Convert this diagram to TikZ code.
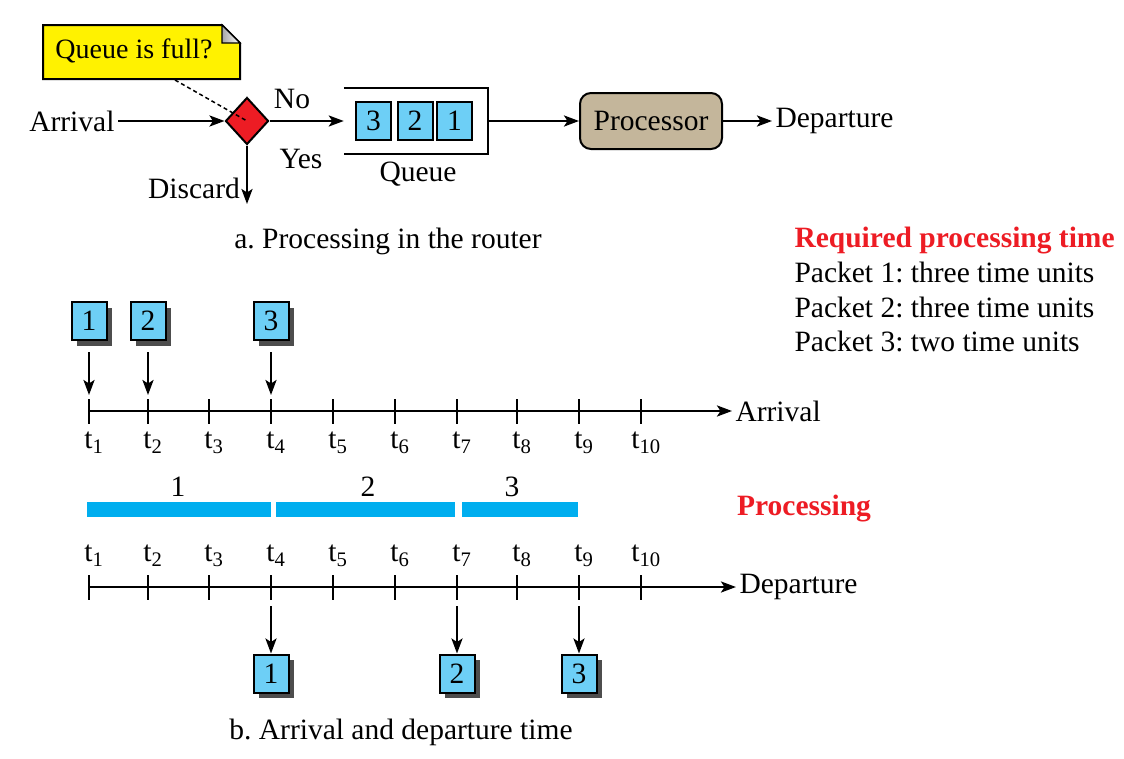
\documentclass[tikz,border=0pt]{standalone}
\usepackage{fontspec}
\setmainfont{Liberation Serif}
\usetikzlibrary{shapes.geometric,arrows.meta,shadows,calc}
\definecolor{calloutyellow}{HTML}{FFF200}
\definecolor{diared}{HTML}{ED1C24}
\definecolor{pktblue}{HTML}{6DCFF6}
\definecolor{barblue}{HTML}{00AEEF}
\definecolor{proctan}{HTML}{C4B69B}
\definecolor{shadowgray}{HTML}{4D4D4D}
\definecolor{titlered}{HTML}{ED1C24}
\frenchspacing
\begin{document}
\begin{tikzpicture}[x=1pt,y=-1pt,
  every node/.style={font=\fontsize{29.5}{34}\selectfont},
  arr/.style={line width=2.5pt,-{Stealth[length=15pt,width=11pt,inset=3.5pt]}},
  tick/.style={line width=2.3pt},
  axis/.style={line width=2.5pt,-{Stealth[length=15pt,width=11pt,inset=3.5pt]}},
  pkt/.style={draw,line width=2pt,fill=pktblue,minimum width=35pt,minimum height=38pt,inner sep=0pt},
  spkt/.style={pkt,drop shadow={shadow xshift=5.5pt,shadow yshift=-5.5pt,fill=shadowgray,opacity=1}},
  bar/.style={fill=barblue},
  redtitle/.style={text=titlered,font=\fontsize{29.5}{34}\selectfont\bfseries}
]
\useasboundingbox (0,0) rectangle (1124,758);

% ---------- a. router ----------
\filldraw[fill=calloutyellow,line width=2pt] (43,25) -- (222,25) -- (240,43) -- (240,79) -- (43,79) -- cycle;
\shade[left color=gray!70,right color=white,draw=black,line width=1.2pt] (222,25) -- (222,43) -- (240,43) -- cycle;
\node[font=\fontsize{28}{33}\selectfont] (callout) at (134,51) {Queue is full?};
\coordinate (calloutpt) at (175,80);

\node[diamond,draw,line width=2pt,fill=diared,minimum width=43pt,minimum height=47pt,inner sep=0pt] (dia) at (247,121) {};
\draw[dashed,line width=1.5pt,dash pattern=on 4pt off 3pt] (calloutpt) -- (dia.center);

\node[anchor=east] (arrival) at (118,121) {Arrival};
\draw[arr] (arrival) -- (dia.west);

\node (no) at (292,99) {No};
\node (yes) at (301,159) {Yes};
\node (discard) at (194,188) {Discard};
\coordinate (discardend) at (247,204);
\draw[arr] (dia.south) -- (discardend);

\node[minimum width=144pt,minimum height=66pt,inner sep=0pt] (queue) at (416,121) {};
\draw[line width=2pt] (queue.north west) -- (queue.north east) -- (queue.south east) -- (queue.south west);
\node[pkt] (q3) at (373.5,121) {3};
\node[pkt] (q2) at (415,121) {2};
\node[pkt] (q1) at (454.5,121) {1};
\node (queuelab) at (418,174) {Queue};
\draw[arr] (dia.east) -- (queue.west);

\node[draw,line width=2pt,fill=proctan,rounded corners=11pt,minimum width=142pt,minimum height=56pt] (proc) at (651,121) {Processor};
\draw[arr] (queue.east) -- (proc.west);
\node[anchor=west] (departure) at (772,121) {Departure};
\draw[arr] (proc.east) -- (departure.west);

\node (capa) at (388,241) {a. Processing in the router};

% ---------- required processing time ----------
\node[redtitle,anchor=west] (req) at (791,241) {Required processing time};
\node[anchor=west] (p1) at (791,272) {Packet 1: three time units};
\node[anchor=west] (p2) at (791,307) {Packet 2: three time units};
\node[anchor=west] (p3) at (791,341) {Packet 3: two time units};

% ---------- b. timelines ----------
\coordinate (astart) at (89,411);
\node[anchor=west] (arrlab) at (732,411) {Arrival};
\draw[axis] (astart) -- (arrlab.west);
\foreach \x [count=\i] in {89,148,209,271,333,395,457,517,579,641} {
  \coordinate (A\i) at (\x,395);
  \draw[tick] (\x,399) -- (\x,424);
  \node at (\x+5,443) {t\textsubscript{\i}};
}
\node[spkt] (a1) at (89,321) {1};
\node[spkt] (a2) at (148,321) {2};
\node[spkt] (a3) at (271,321) {3};
\draw[arr] ([yshift=-11pt]a1.south) -- (A1);
\draw[arr] ([yshift=-11pt]a2.south) -- (A2);
\draw[arr] ([yshift=-11pt]a3.south) -- (A4);

% processing bars
\fill[bar] (87,502) rectangle (271,517);
\fill[bar] (276,502) rectangle (455,517);
\fill[bar] (462,502) rectangle (578,517);
\node at (178,487) {1};
\node at (368,487) {2};
\node at (512,487) {3};
\node[redtitle] (proclab) at (804,509) {Processing};

% departure axis
\coordinate (dstart) at (89,587);
\node[anchor=west] (deplab) at (736,587) {Departure};
\draw[axis] (dstart) -- (deplab.west);
\foreach \x [count=\i] in {89,148,209,271,333,395,457,517,579,641} {
  \coordinate (D\i) at (\x,606);
  \draw[tick] (\x,575) -- (\x,600);
  \node at (\x+5,556) {t\textsubscript{\i}};
}
\node[spkt] (d1) at (271,673.5) {1};
\node[spkt] (d2) at (457,673.5) {2};
\node[spkt] (d3) at (579,673.5) {3};
\draw[arr] (D4) -- (d1.north);
\draw[arr] (D7) -- (d2.north);
\draw[arr] (D9) -- (d3.north);

\node (capb) at (401,732) {b. Arrival and departure time};
\end{tikzpicture}
\end{document}
